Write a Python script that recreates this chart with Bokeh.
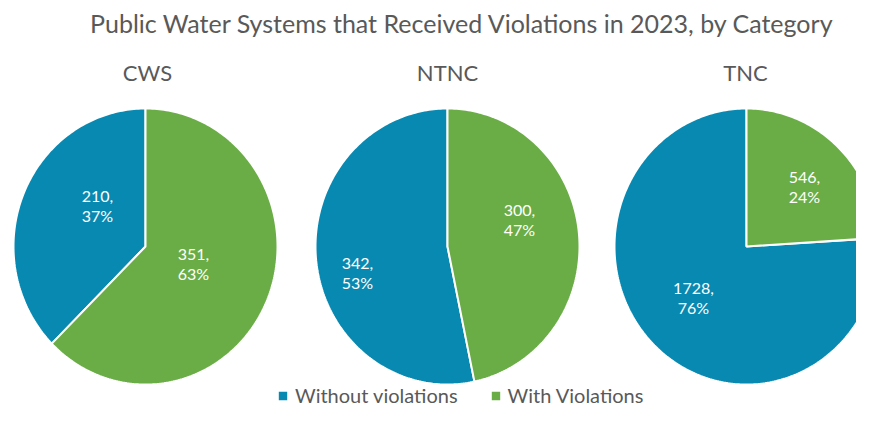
import numpy as np
from bokeh.plotting import figure
from bokeh.models import Range1d, Legend, LegendItem
from bokeh.core.properties import value
from bokeh.embed import file_html
from bokeh.resources import INLINE

# ---------------- data ----------------
title = "Public Water Systems that Received Violations in 2023, by Category"
categories = ["CWS", "NTNC", "TNC"]
series = ["Without violations", "With Violations"]
without_violations = [210, 342, 1728]
with_violations = [351, 300, 546]

# ---------------- style / layout ----------------
BLUE = "#0889B1"
GREEN = "#6AAD46"
GRAY = "#595959"
FONT = "Lato"

W, H = 856, 407
centers_x = [145, 447, 746]
center_y = 246
rx, ry = 132, 138
# label anchor offsets (px) from each pie centre: (without, with)
label_offsets = [
    ((-48, -41), (48, 17)),
    ((-90, 26), (72, -27)),
    ((-53, 51), (58, -60)),
]

p = figure(width=W, height=H,
           x_range=Range1d(0, W), y_range=Range1d(H, 0),
           output_backend="svg", toolbar_location=None,
           x_axis_type=None, y_axis_type=None, min_border=0,
           outline_line_color=None, background_fill_color="white")
p.grid.visible = False

blue_xs, blue_ys, green_xs, green_ys = [], [], [], []
lab_x, lab_y, lab_t = [], [], []

def arc_poly(cx, cy, t0, t1):
    n = max(3, int(abs(t1 - t0) / (2 * np.pi) * 360))
    t = np.linspace(t0, t1, n)
    xs = np.concatenate([[cx], cx + rx * np.sin(t)])
    ys = np.concatenate([[cy], cy - ry * np.cos(t)])
    return list(xs), list(ys)

for i, cat in enumerate(categories):
    wo, wi = without_violations[i], with_violations[i]
    total = wo + wi
    cx = centers_x[i]
    # "With" slice starts at 12 o'clock, clockwise
    t_split = 2 * np.pi * wi / total
    gx, gy = arc_poly(cx, center_y, 0, t_split)
    bx, by = arc_poly(cx, center_y, t_split, 2 * np.pi)
    green_xs.append(gx); green_ys.append(gy)
    blue_xs.append(bx); blue_ys.append(by)
    for (v, off) in zip((wo, wi), label_offsets[i]):
        lab_x.append(cx + off[0])
        lab_y.append(center_y + off[1])
        lab_t.append(f"{v},\n{round(100 * v / total)}%")

r_blue = p.patches(blue_xs, blue_ys, fill_color=BLUE, line_color="white", line_width=2)
r_green = p.patches(green_xs, green_ys, fill_color=GREEN, line_color="white", line_width=2)

p.text(lab_x, lab_y, text=lab_t, text_color="white", text_font=value(FONT),
       text_font_size="16px", text_align="center", text_baseline="middle",
       text_line_height=1.05)

# pie titles
p.text([147, 447, 745], [72] * 3, text=categories, text_color=GRAY,
       text_font=value(FONT), text_font_size="22px",
       text_align="center", text_baseline="middle")

# chart title
p.text([462], [22], text=[title], text_color=GRAY, text_font=value(FONT),
       text_font_size="25px", text_align="center", text_baseline="middle")

legend = Legend(items=[LegendItem(label=series[0], renderers=[r_blue]),
                       LegendItem(label=series[1], renderers=[r_green])],
                orientation="horizontal", location=(276, 0),
                glyph_width=13, glyph_height=13, label_standoff=6, spacing=31,
                padding=0, margin=0, border_line_color=None,
                background_fill_alpha=0, label_text_font=FONT,
                label_text_font_size="20px", label_text_color=GRAY)
p.add_layout(legend, "center")

open("out.html", "w").write(file_html(p, INLINE))
